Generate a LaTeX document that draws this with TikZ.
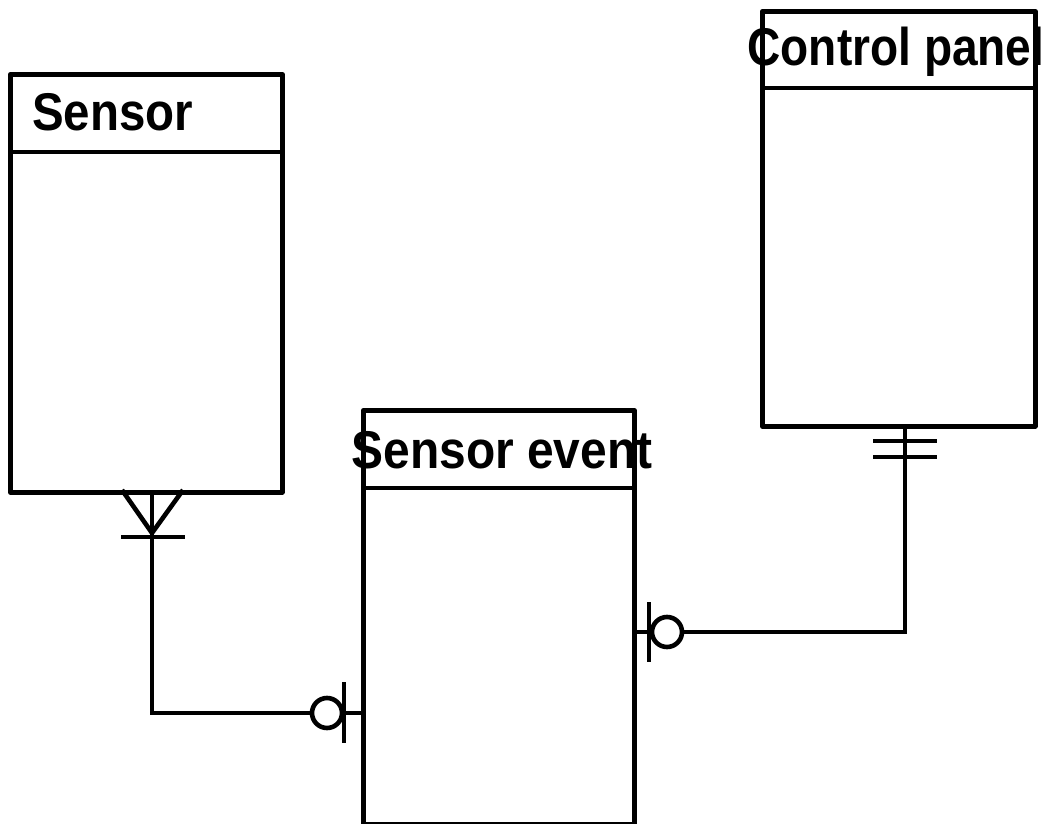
\documentclass[tikz,border=0pt]{standalone}
\usepackage{fontspec}
\setmainfont{Liberation Sans}
\begin{document}
\begin{tikzpicture}[x=1pt,y=-1pt,
  entity/.style={draw, line width=4.6pt, line join=round, inner sep=0pt, anchor=north west},
  hdr/.style={inner sep=0pt, font=\fontsize{47}{55}\selectfont\bfseries},
  conn/.style={line width=4.6pt}]
\useasboundingbox (0,0) rectangle (1057,824);
% entities
\node[entity, minimum width=272pt, minimum height=418pt] (sensor) at (8,72) {};
\draw[conn] (sensor.west |- 0,152) -- (sensor.east |- 0,152);
\node[hdr, anchor=base west] (sensorT) at (32,131) {\scalebox{1.01}[1.13]{Sensor}};

\node[entity, minimum width=273pt, minimum height=415pt] (panel) at (760,9) {};
\draw[conn] (panel.west |- 0,88) -- (panel.east |- 0,88);
\node[hdr, anchor=base] (panelT) at (896,66) {\scalebox{0.98}[1.13]{Control panel}};

\node[entity, minimum width=271pt, minimum height=414pt] (event) at (361,408) {};
\draw[conn] (event.west |- 0,488) -- (event.east |- 0,488);
\node[hdr, anchor=base] (eventT) at (502,468) {\scalebox{1.02}[1.13]{Sensor event}};

% connector Sensor -> Sensor event
\coordinate (a1) at (152,490);
\coordinate (a2) at (361,713);
\draw[conn] (a1) |- (312,713);
\draw[conn] (122,490) -- (152,533) -- (183,490);
\draw[conn] (121,537) -- (185,537);
\draw[conn] (327,713) circle (15);
\draw[conn] (344,682) -- (344,743);
\draw[conn] (344,713) -- (a2);

% connector Control panel -> Sensor event
\coordinate (b1) at (905,424);
\coordinate (b2) at (632,632);
\draw[conn] (b1) |- (682,632);
\draw[conn] (873,441) -- (937,441);
\draw[conn] (873,457) -- (937,457);
\draw[conn] (667,632) circle (15);
\draw[conn] (649,602) -- (649,662);
\draw[conn] (652,632) -- (b2);
\end{tikzpicture}
\end{document}
